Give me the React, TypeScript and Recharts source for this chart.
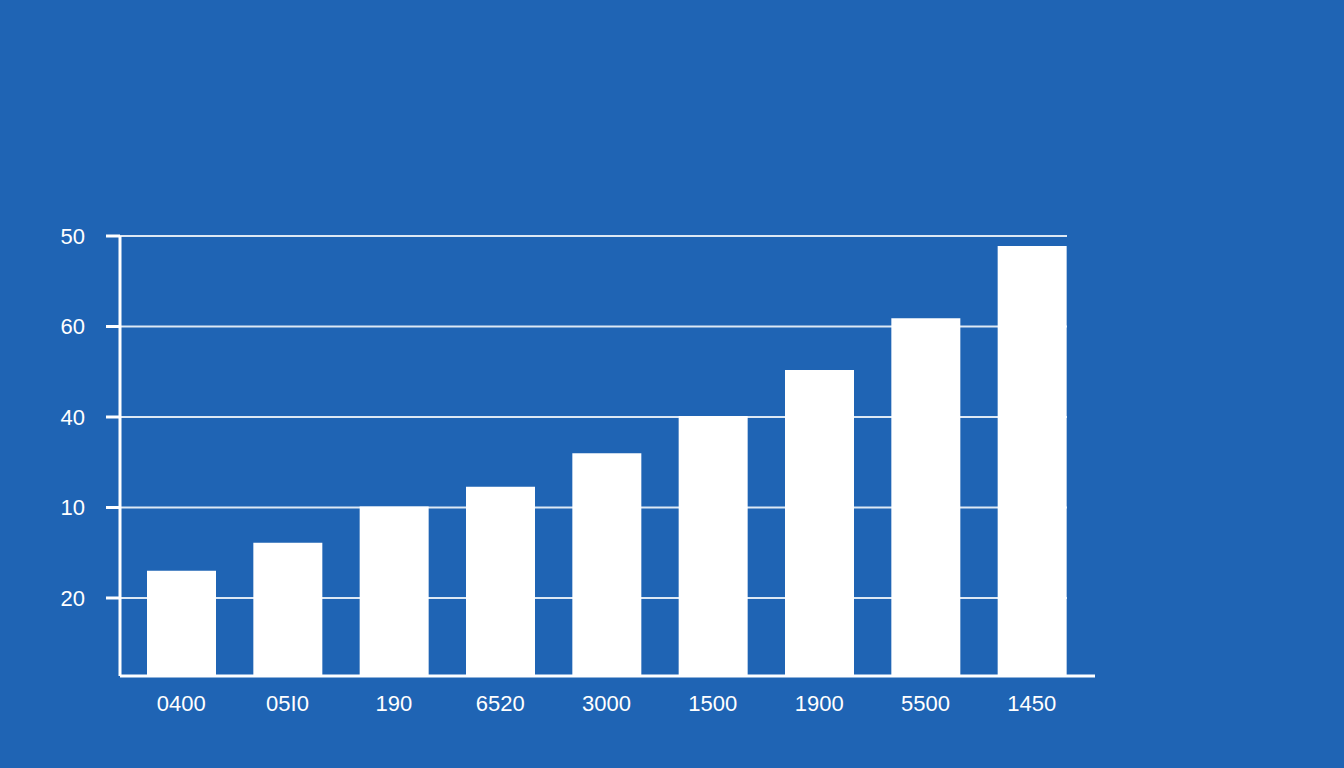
import React from "react";
import { Bar, BarChart, CartesianGrid, XAxis, YAxis } from "recharts";

// category labels as printed under each bar
const categories = ["0400", "05I0", "190", "6520", "3000", "1500", "1900", "5500", "1450"];
// bar heights in axis units
const values = [13.0, 16.1, 20.1, 22.3, 26.0, 30.1, 35.2, 40.9, 48.9];
// tick positions and the labels printed next to them
const yTicks = [10, 20, 30, 40, 50];
const yTickLabels = ["20", "10", "40", "60", "50"];

const data = categories.map((c, i) => ({ name: c, value: values[i] }));

const BG = "#1f64b4";
const FONT = "'Liberation Sans', Arial, sans-serif";

export default function App() {
  return (
    <div style={{ position: "fixed", left: 0, top: 0, width: 1344, height: 768, background: BG, fontFamily: FONT }}>
      <BarChart
        width={1344}
        height={768}
        data={data}
        margin={{ top: 236, right: 249, bottom: 0, left: 50 }}
        barCategoryGap={0}
      >
        <CartesianGrid
          vertical={false}
          horizontal={(p: any) => (
            <line
              key={p.key ?? `g-${p.y1}`}
              x1={p.x1}
              x2={p.x2 - 28}
              y1={p.y1}
              y2={p.y2}
              stroke="rgba(255,255,255,0.85)"
              strokeWidth={2}
            />
          )}
        />
        <XAxis
          dataKey="name"
          height={92}
          padding={{ left: 8, right: 10 }}
          axisLine={{ stroke: "#ffffff", strokeWidth: 3 }}
          tickLine={false}
          tickSize={8}
          tickMargin={11}
          tick={{ fill: "#ffffff", fontSize: 22, fontFamily: FONT }}
          interval={0}
        />
        <YAxis
          type="number"
          domain={[1.38, 50]}
          ticks={yTicks}
          allowDataOverflow
          width={70}
          axisLine={{ stroke: "#ffffff", strokeWidth: 3 }}
          tickLine={{ stroke: "#ffffff", strokeWidth: 3 }}
          tickSize={14}
          tickMargin={21}
          tick={{ fill: "#ffffff", fontSize: 22, fontFamily: FONT }}
          tickFormatter={(v: number) => yTickLabels[yTicks.indexOf(v)] ?? ""}
        />
        <Bar dataKey="value" fill="#ffffff" barSize={69} isAnimationActive={false} />
      </BarChart>
    </div>
  );
}
